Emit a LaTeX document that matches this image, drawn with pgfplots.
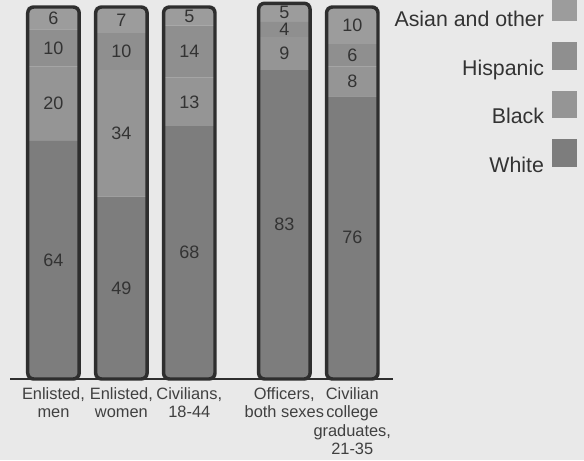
\documentclass[border=0pt]{standalone}
\usepackage{pgfplots}
\pgfplotsset{compat=1.18}
\usepackage{pgfplotstable}
\usepackage{fontspec}
\setmainfont{Liberation Sans}
\definecolor{bg}{HTML}{E9E9E9}
\definecolor{cAsian}{HTML}{9C9C9C}
\definecolor{cHisp}{HTML}{8F8F8F}
\definecolor{cBlack}{HTML}{959595}
\definecolor{cWhite}{HTML}{7D7D7D}
\definecolor{edge}{HTML}{2E2E2E}
\definecolor{txt}{HTML}{333333}
\definecolor{lbl}{HTML}{404040}

\pgfplotstableread{
x white black hisp asian total
0 64 20 10 6 100
1 49 34 10 7 100
2 68 13 14 5 100
3.4 83 9 4 5 101
4.4 76 8 6 10 100
}\data

\pgfplotsset{common/.style={
  at={(7.5pt,60.75pt)}, anchor=south west, scale only axis,
  width=287.25pt, height=279pt, xmin=-0.64, xmax=5.0, ymin=0, ymax=100,
  clip=false, axis y line=none, ytick=\empty,
}}

\begin{document}
\begin{tikzpicture}
\path[use as bounding box, fill=bg] (0,0) rectangle (438pt,345pt);
\begin{axis}[common, axis x line=none, xtick=\empty,
  ybar stacked, bar width=38.6pt,
  every axis plot/.append style={draw=none,
    legend image code/.code={\path (0pt,0pt); \fill[##1] (4pt,-1pt) rectangle (22.75pt,19.5pt);}},
  nodes near coords={\pgfmathprintnumber[assume math mode=true]{\pgfplotspointmeta}},
  every node near coord/.append style={anchor=center, font=\fontsize{13.5}{16}\selectfont, text=txt},
  legend plot pos=right, reverse legend,
  legend style={at={(1.4804,1.0349)}, anchor=north east, draw=none, fill=none,
    inner sep=0pt, outer sep=0pt, font=\fontsize{16}{19}\selectfont, text=txt,
    row sep=8.3pt, legend cell align=right},
]
\addplot[fill=cWhite, point meta=\thisrow{white}] table[x=x,y=white]{\data};
\addplot[fill=cBlack, point meta=\thisrow{black}] table[x=x,y=black]{\data};
\addplot[fill=cHisp, point meta=\thisrow{hisp}] table[x=x,y=hisp]{\data};
\addplot[fill=cAsian, point meta=\thisrow{asian}] table[x=x,y=asian]{\data};
\legend{White,Black,Hispanic,Asian and other}
\end{axis}
\begin{axis}[common, ybar, bar width=38.6pt,
  axis x line*=bottom, x axis line style={-, line width=2.2pt, draw=edge},
  xtick={0,1,2,3.4,4.4}, major tick length=0pt,
  xticklabels={{Enlisted,\\men},{Enlisted,\\women},{Civilians,\\18-44},{Officers,\\both sexes},{Civilian\\college\\graduates,\\21-35}},
  xticklabel style={align=center, font=\fontsize{12.3}{13.9}\selectfont, text=lbl, inner sep=0pt, yshift=-6pt},
]
\addplot[fill=none, draw=edge, line width=2.6pt, rounded corners=4.5pt] table[x=x,y=total]{\data};
\end{axis}
\end{tikzpicture}
\end{document}
